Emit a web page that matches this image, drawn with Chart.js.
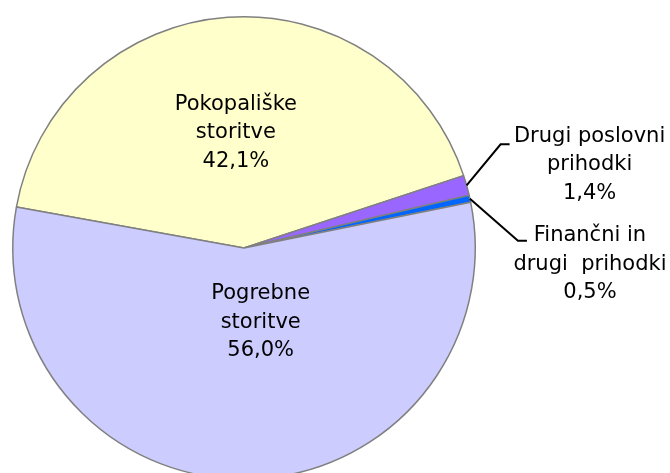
<!DOCTYPE html>
<html>
<head>
<meta charset="utf-8">
<script src="https://cdn.jsdelivr.net/npm/chart.js@4.4.1/dist/chart.umd.min.js"></script>
<style>
  html, body { margin: 0; padding: 0; background: #fff; overflow: hidden; }
  #wrap { width: 670px; height: 473px; overflow: hidden; }
</style>
</head>
<body>
<div id="wrap"><canvas id="pieChart" width="670" height="500"></canvas></div>
<script>
// chart data
const categories = ['Pokopališke storitve', 'Drugi poslovni prihodki', 'Finančni in drugi prihodki', 'Pogrebne storitve'];
const labelLines = [['Pokopališke', 'storitve'], ['Drugi poslovni', 'prihodki'], ['Finančni in', 'drugi  prihodki'], ['Pogrebne', 'storitve']];
const shares = [42.1, 1.4, 0.5, 56.0];
const sliceColors = ['#FFFFCC', '#9966FF', '#0066FF', '#CCCCFF'];

const fmtPct = v => v.toFixed(1).replace('.', ',') + '%';
const labelFont = '21px "DejaVu Sans"';

// draws the labels, inside ones at the slice, outside ones with a leader line
const pieLabels = {
    id: 'pieLabels',
    afterDatasetsDraw(chart, args, opts) {
        const ctx = chart.ctx;
        const arcs = chart.getDatasetMeta(0).data;
        ctx.save();
        ctx.font = labelFont;
        ctx.fillStyle = '#000';
        ctx.textAlign = 'center';
        ctx.textBaseline = 'middle';
        arcs.forEach((arc, i) => {
            const p = opts.place[i];
            const mid = (arc.startAngle + arc.endAngle) / 2;
            const lines = labelLines[i].concat([fmtPct(shares[i])]);
            let tx, ty;
            if (p.inside) {
                tx = arc.x + Math.cos(mid + p.turn) * arc.outerRadius * p.dist;
                ty = arc.y + Math.sin(mid + p.turn) * arc.outerRadius * p.dist - opts.lineHeight;
            } else {
                const ex = arc.x + Math.cos(mid) * arc.outerRadius;
                const ey = arc.y + Math.sin(mid) * arc.outerRadius;
                ctx.beginPath();
                ctx.strokeStyle = '#000';
                ctx.lineWidth = 2;
                ctx.moveTo(ex, ey);
                ctx.lineTo(ex + p.elbow[0], ey + p.elbow[1]);
                ctx.lineTo(ex + p.end, ey + p.elbow[1]);
                ctx.stroke();
                tx = ex + p.text[0];
                ty = ey + p.text[1];
            }
            lines.forEach((s, k) => ctx.fillText(s, tx, ty + k * opts.lineHeight));
        });
        ctx.restore();
    }
};

const ctxPie = document.getElementById('pieChart').getContext('2d');
const pieChart = new Chart(ctxPie, {
    type: 'pie',
    data: {
        labels: categories,
        datasets: [{
            data: shares,
            backgroundColor: sliceColors,
            borderColor: '#808080',
            borderWidth: 1.5
        }]
    },
    options: {
        responsive: false,
        animation: false,
        rotation: -79.8,
        layout: { padding: { left: 12, right: 194, top: 16, bottom: 20 } },
        plugins: {
            legend: { display: false },
            tooltip: { enabled: false },
            pieLabels: {
                lineHeight: 28.5,
                place: [
                    { inside: true, dist: 0.5, turn: 0 },
                    { inside: false, elbow: [34, -41], end: 43, text: [123, -49] },
                    { inside: false, elbow: [48, 42], end: 57, text: [120, 37] },
                    { inside: true, dist: 0.33, turn: -0.21 }
                ]
            }
        }
    },
    plugins: [pieLabels]
});
</script>
</body>
</html>
